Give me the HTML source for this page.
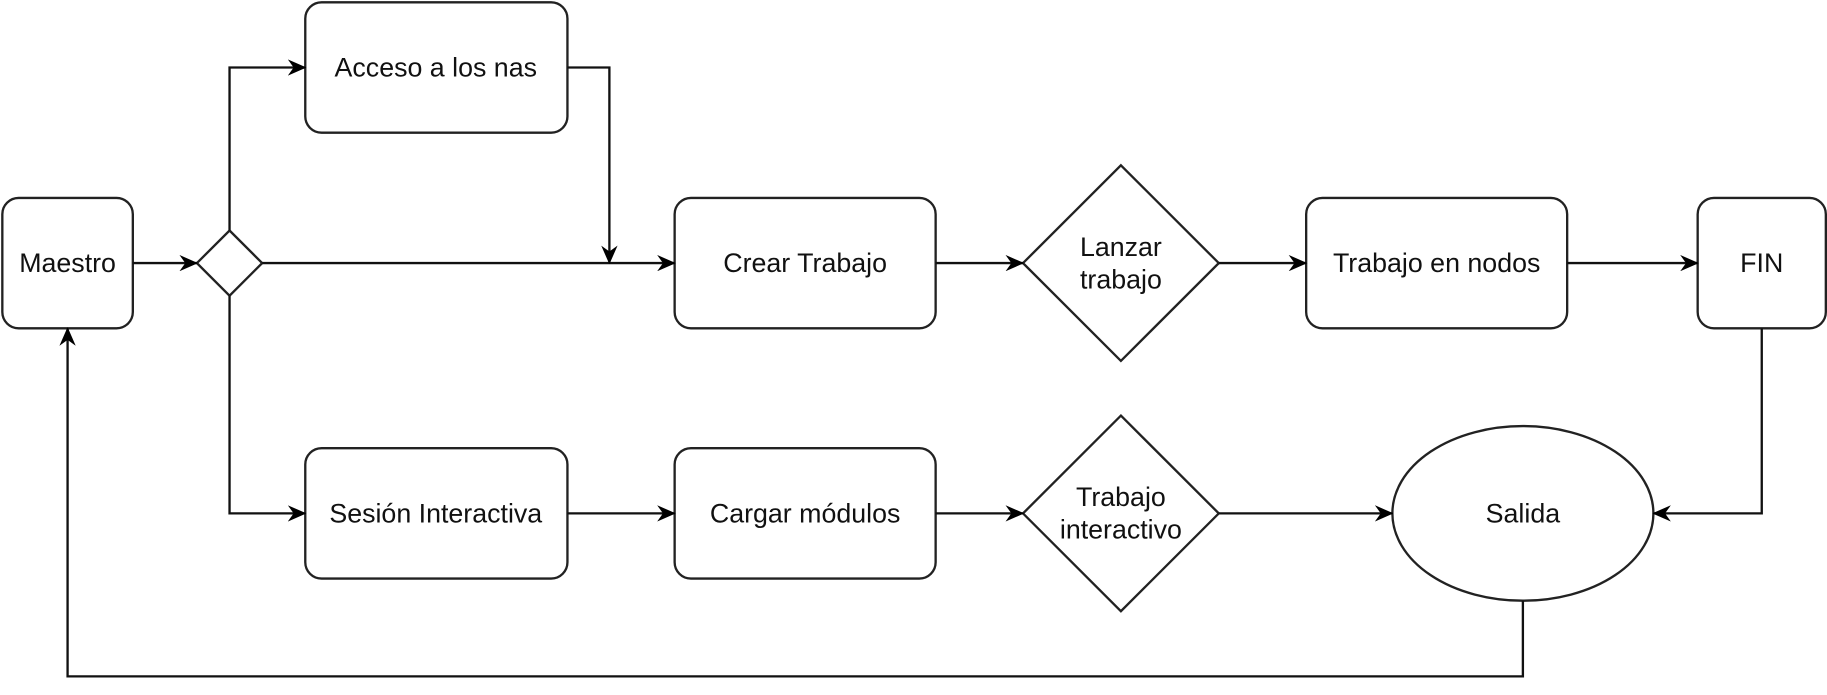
<!DOCTYPE html>
<html><head><meta charset="utf-8"><style>
html,body{margin:0;padding:0;background:#fff;}
svg{display:block}
text{font-family:"Liberation Sans",sans-serif;font-size:23px;fill:#111;text-anchor:middle;dominant-baseline:central}
</style></head><body>
<svg width="1827" height="695" viewBox="0 0 1568 597" preserveAspectRatio="none">
<defs><marker id="a" markerWidth="16" markerHeight="14" refX="15" refY="7" orient="auto" markerUnits="userSpaceOnUse">
<path d="M0,0 L16,7 L0,14 L5,7 Z" fill="#000"/></marker></defs>
<g fill="#fff" stroke="#222" stroke-width="2">
<rect x="2" y="170" width="112" height="112" rx="14"/>
<path d="M197,198 L225,226 L197,254 L169,226 Z"/>
<rect x="262" y="2" width="225" height="112" rx="14"/>
<rect x="579" y="170" width="224" height="112" rx="14"/>
<path d="M962,142 L1046,226 L962,310 L878,226 Z"/>
<rect x="1121" y="170" width="224" height="112" rx="14"/>
<rect x="1457" y="170" width="110" height="112" rx="14"/>
<rect x="262" y="385" width="225" height="112" rx="14"/>
<rect x="579" y="385" width="224" height="112" rx="14"/>
<path d="M962,357 L1046,441 L962,525 L878,441 Z"/>
<ellipse cx="1307" cy="441" rx="112" ry="75"/>
</g>
<g fill="none" stroke="#111" stroke-width="2" marker-end="url(#a)">
<path d="M114,226 H169"/>
<path d="M197,198 V58 H262"/>
<path d="M225,226 H579"/>
<path d="M487,58 H523 V226"/>
<path d="M197,254 V441 H262"/>
<path d="M487,441 H579"/>
<path d="M803,441 H878"/>
<path d="M1046,441 H1195"/>
<path d="M803,226 H878"/>
<path d="M1046,226 H1121"/>
<path d="M1345,226 H1457"/>
<path d="M1512,282 V441 H1419"/>
<path d="M1307,516 V581 H58 V282"/>
</g>
<text x="58" y="226">Maestro</text>
<text x="374" y="58">Acceso a los nas</text>
<text x="691" y="226">Crear Trabajo</text>
<text x="962" y="212">Lanzar</text>
<text x="962" y="240">trabajo</text>
<text x="1233" y="226">Trabajo en nodos</text>
<text x="1512" y="226">FIN</text>
<text x="374" y="441">Sesión Interactiva</text>
<text x="691" y="441">Cargar módulos</text>
<text x="962" y="427">Trabajo</text>
<text x="962" y="455">interactivo</text>
<text x="1307" y="441">Salida</text>
</svg>
</body></html>
